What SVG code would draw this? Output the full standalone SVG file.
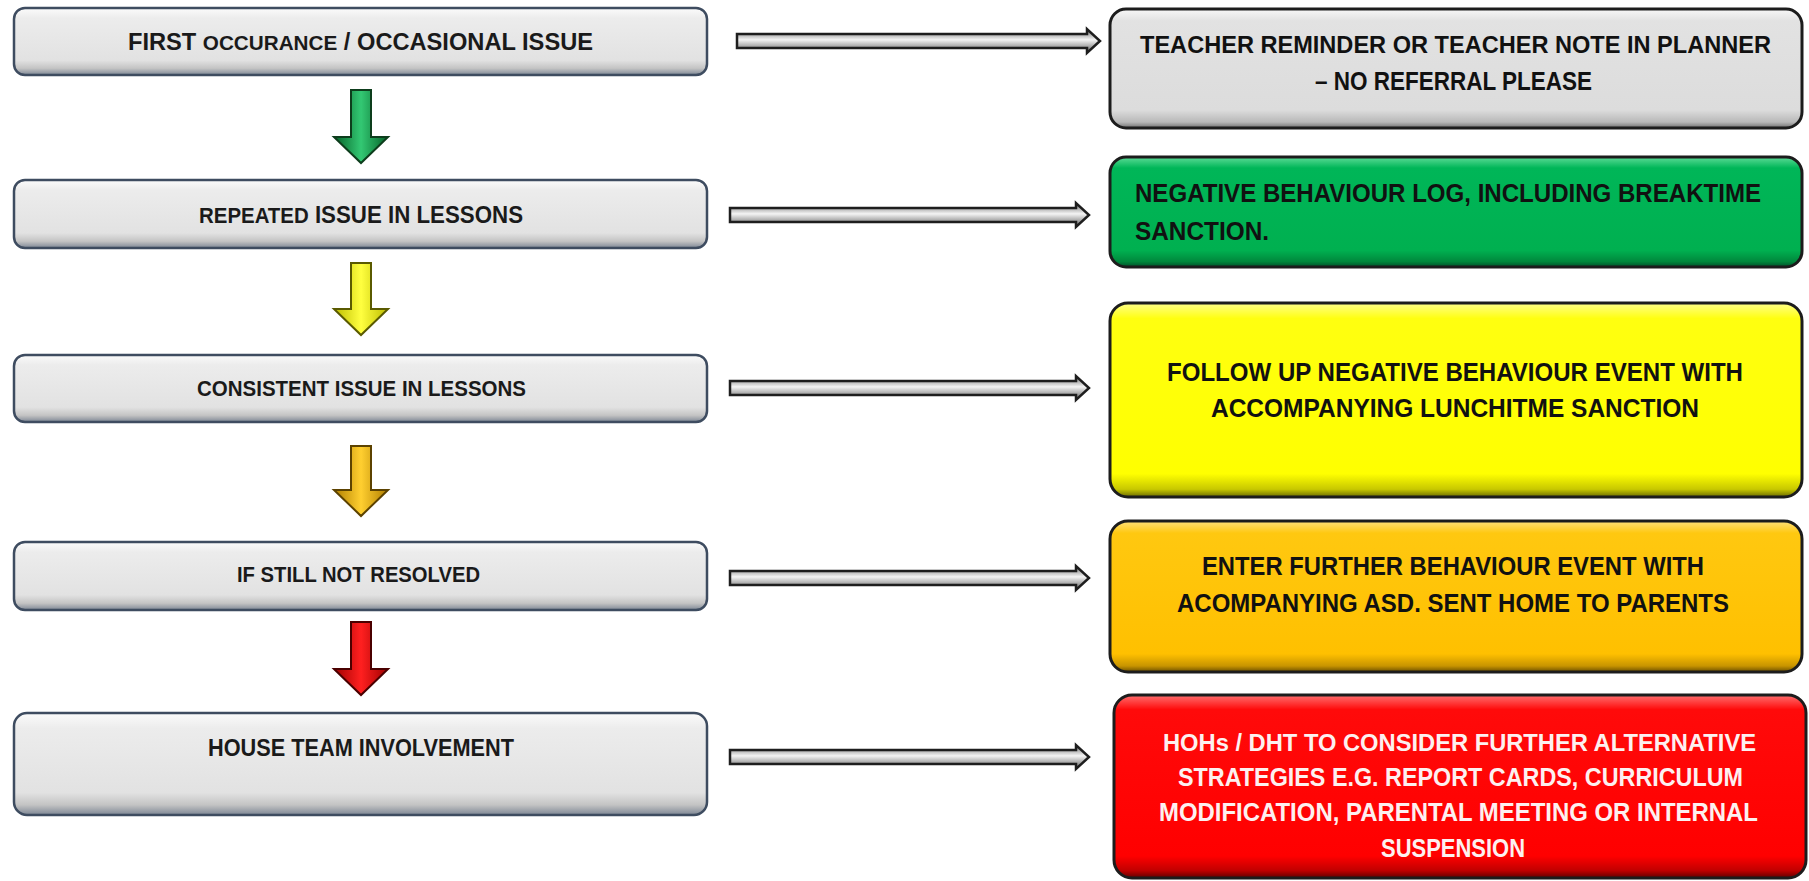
<svg xmlns="http://www.w3.org/2000/svg" width="1809" height="881" viewBox="0 0 1809 881">
<defs>
<style>
.lt{font-family:"Liberation Sans",Arial,sans-serif;font-weight:bold;fill:#1a1a1a;}
.rt{font-family:"Liberation Sans",Arial,sans-serif;font-weight:bold;font-size:26px;fill:#111;}
.wt{font-family:"Liberation Sans",Arial,sans-serif;font-weight:bold;font-size:26px;fill:#fdf0f0;}
.sm{font-size:23.5px;}
.lbox{fill:url(#gLeft);stroke:#3e4c60;stroke-width:2.5;}
.rbox{stroke:#1c1c1c;stroke-width:3;}
.conn{fill:url(#gConn);stroke:#1e1e1e;stroke-width:2.5;stroke-linejoin:miter;}
</style>
<linearGradient id="gLeft" x1="0" y1="0" x2="0" y2="1">
<stop offset="0" stop-color="#fbfbfb"/><stop offset="0.15" stop-color="#ececec"/><stop offset="0.78" stop-color="#e2e2e2"/><stop offset="0.9" stop-color="#c4c4c4"/><stop offset="1" stop-color="#7d8694"/>
</linearGradient>
<linearGradient id="gGray" x1="0" y1="0" x2="0" y2="1">
<stop offset="0" stop-color="#f8f8f8"/><stop offset="0.1" stop-color="#e2e2e2"/><stop offset="0.85" stop-color="#dcdcdc"/><stop offset="0.95" stop-color="#b8b8b8"/><stop offset="1" stop-color="#6e6e6e"/>
</linearGradient>
<linearGradient id="gGreen" x1="0" y1="0" x2="0" y2="1">
<stop offset="0" stop-color="#5ddc97"/><stop offset="0.1" stop-color="#00b658"/><stop offset="0.85" stop-color="#00b050"/><stop offset="0.95" stop-color="#00883c"/><stop offset="1" stop-color="#00502a"/>
</linearGradient>
<linearGradient id="gYellow" x1="0" y1="0" x2="0" y2="1">
<stop offset="0" stop-color="#ffff8a"/><stop offset="0.08" stop-color="#ffff10"/><stop offset="0.88" stop-color="#ffff00"/><stop offset="0.96" stop-color="#c8c800"/><stop offset="1" stop-color="#6a6a00"/>
</linearGradient>
<linearGradient id="gOrange" x1="0" y1="0" x2="0" y2="1">
<stop offset="0" stop-color="#ffe07a"/><stop offset="0.08" stop-color="#ffc810"/><stop offset="0.88" stop-color="#ffc000"/><stop offset="0.96" stop-color="#c89400"/><stop offset="1" stop-color="#6a4e00"/>
</linearGradient>
<linearGradient id="gRed" x1="0" y1="0" x2="0" y2="1">
<stop offset="0" stop-color="#ff7070"/><stop offset="0.08" stop-color="#ff0a0a"/><stop offset="0.88" stop-color="#ff0000"/><stop offset="0.96" stop-color="#c00000"/><stop offset="1" stop-color="#600000"/>
</linearGradient>
<linearGradient id="gConn" x1="0" y1="0" x2="0" y2="1">
<stop offset="0" stop-color="#6a6a6a"/><stop offset="0.45" stop-color="#f4f4f4"/><stop offset="1" stop-color="#5e5e5e"/>
</linearGradient>
<linearGradient id="aGreen" x1="0" y1="0" x2="1" y2="0">
<stop offset="0" stop-color="#056128"/><stop offset="0.5" stop-color="#33c873"/><stop offset="1" stop-color="#056128"/>
</linearGradient>
<linearGradient id="aYellow" x1="0" y1="0" x2="1" y2="0">
<stop offset="0" stop-color="#bdbd00"/><stop offset="0.5" stop-color="#ffff40"/><stop offset="1" stop-color="#bdbd00"/>
</linearGradient>
<linearGradient id="aGold" x1="0" y1="0" x2="1" y2="0">
<stop offset="0" stop-color="#b07e00"/><stop offset="0.5" stop-color="#ffcf30"/><stop offset="1" stop-color="#b07e00"/>
</linearGradient>
<linearGradient id="aRed" x1="0" y1="0" x2="1" y2="0">
<stop offset="0" stop-color="#a00000"/><stop offset="0.5" stop-color="#ff2020"/><stop offset="1" stop-color="#a00000"/>
</linearGradient>
</defs>
<rect width="1809" height="881" fill="#ffffff"/>

<g id="left1"><rect class="lbox" x="14" y="8" width="693" height="67" rx="11"/>
<text class="lt" x="128" y="50" font-size="24" textLength="465" lengthAdjust="spacingAndGlyphs">FIRST <tspan font-size="21">OCCURANCE</tspan> / OCCASIONAL ISSUE</text></g>
<g id="left2"><rect class="lbox" x="14" y="180" width="693" height="68" rx="11"/>
<text class="lt" x="199" y="223" font-size="24" textLength="324" lengthAdjust="spacingAndGlyphs"><tspan font-size="22">REPEATED</tspan>  ISSUE IN LESSONS</text></g>
<g id="left3"><rect class="lbox" x="14" y="355" width="693" height="67" rx="11"/>
<text class="lt" x="197" y="396" font-size="22" textLength="329" lengthAdjust="spacingAndGlyphs">CONSISTENT ISSUE  IN LESSONS</text></g>
<g id="left4"><rect class="lbox" x="14" y="542" width="693" height="68" rx="11"/>
<text class="lt" x="237" y="582" font-size="22" textLength="243" lengthAdjust="spacingAndGlyphs">IF STILL  NOT RESOLVED</text></g>
<g id="left5"><rect class="lbox" x="14" y="713" width="693" height="102" rx="13"/>
<text class="lt" x="208" y="756" font-size="23" textLength="306" lengthAdjust="spacingAndGlyphs">HOUSE  TEAM  INVOLVEMENT</text></g>

<g id="right1"><rect class="rbox" x="1110" y="9" width="692" height="119" rx="16" fill="url(#gGray)"/>
<text class="rt sm" x="1140" y="53" textLength="631" lengthAdjust="spacingAndGlyphs">TEACHER REMINDER OR TEACHER NOTE IN PLANNER</text>
<text class="rt" x="1315" y="90" textLength="277" lengthAdjust="spacingAndGlyphs">– NO REFERRAL PLEASE</text></g>
<g id="right2"><rect class="rbox" x="1110" y="157" width="692" height="110" rx="16" fill="url(#gGreen)"/>
<text class="rt" x="1135" y="202" textLength="626" lengthAdjust="spacingAndGlyphs">NEGATIVE BEHAVIOUR LOG, INCLUDING BREAKTIME</text>
<text class="rt" x="1135" y="240" textLength="134" lengthAdjust="spacingAndGlyphs">SANCTION.</text></g>
<g id="right3"><rect class="rbox" x="1110" y="303" width="692" height="194" rx="18" fill="url(#gYellow)"/>
<text class="rt" x="1167" y="381" textLength="576" lengthAdjust="spacingAndGlyphs">FOLLOW UP NEGATIVE BEHAVIOUR EVENT WITH</text>
<text class="rt" x="1211" y="417" textLength="488" lengthAdjust="spacingAndGlyphs">ACCOMPANYING LUNCHITME SANCTION</text></g>
<g id="right4"><rect class="rbox" x="1110" y="521" width="692" height="151" rx="18" fill="url(#gOrange)"/>
<text class="rt" x="1202" y="575" textLength="502" lengthAdjust="spacingAndGlyphs">ENTER FURTHER BEHAVIOUR EVENT WITH</text>
<text class="rt" x="1177" y="612" textLength="552" lengthAdjust="spacingAndGlyphs">ACOMPANYING ASD. SENT HOME TO PARENTS</text></g>
<g id="right5"><rect class="rbox" x="1114" y="695" width="692" height="183" rx="18" fill="url(#gRed)"/>
<text class="wt sm" x="1163" y="751" textLength="593" lengthAdjust="spacingAndGlyphs">HOHs / DHT TO CONSIDER FURTHER ALTERNATIVE</text>
<text class="wt" x="1178" y="786" textLength="565" lengthAdjust="spacingAndGlyphs">STRATEGIES E.G. REPORT CARDS, CURRICULUM</text>
<text class="wt" x="1159" y="821" textLength="599" lengthAdjust="spacingAndGlyphs">MODIFICATION, PARENTAL MEETING OR INTERNAL</text>
<text class="wt" x="1381" y="857" textLength="144" lengthAdjust="spacingAndGlyphs">SUSPENSION</text></g>

<g id="connectors">
<path class="conn" d="M737,34 H1087 V29 L1100,41 L1087,53 V48 H737 Z"/>
<path class="conn" d="M730,208 H1076 V203 L1089,215 L1076,227 V222 H730 Z"/>
<path class="conn" d="M730,381 H1076 V376 L1089,388 L1076,400 V395 H730 Z"/>
<path class="conn" d="M730,571 H1076 V566 L1089,578 L1076,590 V585 H730 Z"/>
<path class="conn" d="M730,750 H1076 V745 L1089,757 L1076,769 V764 H730 Z"/>
<path d="M351,90 H371 V137 H388 L361,163 L334,137 H351 Z" fill="url(#aGreen)" stroke="#0d3d1c" stroke-width="2"/>
<path d="M351,263 H371 V309 H388 L361,335 L334,309 H351 Z" fill="url(#aYellow)" stroke="#5a5a00" stroke-width="2"/>
<path d="M351,446 H371 V490 H388 L361,516 L334,490 H351 Z" fill="url(#aGold)" stroke="#5c4200" stroke-width="2"/>
<path d="M351,622 H371 V669 H388 L361,695 L334,669 H351 Z" fill="url(#aRed)" stroke="#4a0000" stroke-width="2"/>
</g>
</svg>
